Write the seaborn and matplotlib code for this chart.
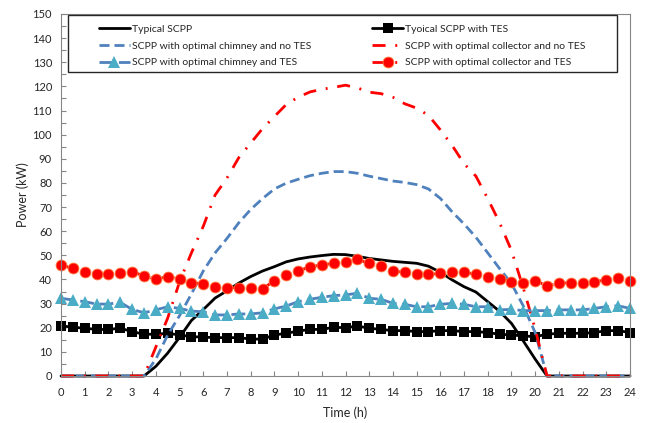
import matplotlib
matplotlib.use("Agg")
import matplotlib.pyplot as plt
import seaborn as sns
from matplotlib.path import Path
from matplotlib.ticker import MultipleLocator

# ---------------- data ----------------
hours = [0, 0.5, 1, 1.5, 2, 2.5, 3, 3.5, 4, 4.5, 5, 5.5, 6, 6.5, 7, 7.5, 8, 8.5,
         9, 9.5, 10, 10.5, 11, 11.5, 12, 12.5, 13, 13.5, 14, 14.5, 15, 15.5, 16,
         16.5, 17, 17.5, 18, 18.5, 19, 19.5, 20, 20.5, 21, 21.5, 22, 22.5, 23,
         23.5, 24]

typical = [0, 0, 0, 0, 0, 0, 0, 0,
           4, 9.5, 16, 23, 27.5, 32.3, 35.3, 38.5, 41.2, 43.5, 45.3, 47.3, 48.5,
           49.3, 49.9, 50.4, 50.3, 49.6, 48.7, 48.1, 47.5, 47.1, 46.7, 45.5, 43,
           39.8, 37, 34.8, 30.8, 26.8, 21.8, 14.5, 7,
           0, 0, 0, 0, 0, 0, 0, 0]

typical_tes = [20.8, 20.2, 19.8, 19.3, 19.3, 19.8, 18.4, 17.3, 17.3, 17.7, 17.0,
               16.3, 16.1, 15.9, 15.9, 15.9, 15.3, 15.3, 17.0, 17.7, 18.6, 19.3,
               19.3, 20.2, 20.0, 20.7, 19.8, 19.3, 18.8, 18.8, 18.4, 18.4, 18.8,
               18.8, 18.4, 18.4, 18.0, 17.3, 17.0, 16.6, 16.3, 17.3, 17.7, 17.7,
               17.7, 18.0, 18.8, 18.8, 18.0]

chimney_no_tes = [0, 0, 0, 0, 0, 0, 0, 0,
                  7, 17, 25, 34, 43.5, 51, 57, 63.5, 69, 73.5, 77.5, 79.9, 81.5,
                  83, 84, 84.7, 84.7, 84, 82.8, 81.8, 80.8, 80.2, 79.3, 77.5,
                  73.6, 68, 63, 57.5, 51, 44.5, 38.3, 29, 18,
                  0, 0, 0, 0, 0, 0, 0, 0]

collector_no_tes = [0, 0, 0, 0, 0, 0, 0, 0,
                    12, 24, 39, 51, 62, 75, 82, 90.5, 96.5, 102.5, 107.5, 112.5,
                    115.5, 117.7, 118.8, 119.6, 120.5, 119.4, 117.6, 117, 115.5,
                    112.8, 111, 108, 102, 95.5, 88, 82.8, 73.5, 63.5, 52, 36.5,
                    19.5,
                    0, 0, 0, 0, 0, 0, 0, 0]

chimney_tes = [32.2, 31.5, 30.8, 29.8, 29.8, 30.5, 27.6, 26.2, 27.4, 28.7, 28.0,
               26.9, 26.6, 25.3, 25.3, 25.7, 25.7, 26.2, 27.8, 29.0, 30.8, 31.8,
               32.6, 33.3, 33.6, 34.3, 32.2, 31.8, 30.1, 29.7, 28.7, 28.7, 29.7,
               30.1, 29.7, 28.7, 28.7, 27.4, 27.6, 27.1, 27.1, 27.1, 27.4, 27.4,
               27.4, 28.0, 28.7, 29.1, 28.0]

collector_tes = [46, 44.6, 43.2, 42.1, 42.3, 42.8, 43.1, 41.6, 40.1, 41.2, 40.1,
                 38.7, 38.2, 36.8, 36.6, 36.6, 36.6, 36.1, 39.5, 41.9, 43.5, 45.3,
                 46, 46.7, 47.4, 48.3, 46.7, 45.6, 43.5, 43, 42.1, 42.1, 42.5, 43,
                 43, 42.1, 41.2, 40.2, 39.1, 38.7, 39.5, 37.4, 38.4, 38.7, 38.4,
                 39.1, 39.8, 40.5, 39.5]

labels = ["Typical SCPP", "Tyoical SCPP with TES",
          "SCPP with optimal chimney and no TES",
          "SCPP with optimal collector and no TES",
          "SCPP with optimal chimney and TES",
          "SCPP with optimal collector and TES"]
x_ticks = list(range(0, 25))

# ---------------- style ----------------
sns.set_theme(style="white")
plt.rcParams['font.family'] = ['Lato', 'DejaVu Sans']

BLUE = "#4F81BD"
TEAL = "#4BACC6"
RED = "#FF0000"
GREY = "#868686"
TXT = "#262626"

fig = plt.figure(figsize=(6.45, 4.23), dpi=100)
ax = fig.add_axes([61 / 645, 1 - 376 / 423, (630 - 61) / 645, (376 - 14) / 423])

dash = (0, (3.6, 1.8))
dashdot = (0, (4.7, 3.5, 0.7, 3.5))

styles = [
    (typical, dict(color="black", lw=2.0, linestyle="-")),
    (typical_tes, dict(color="black", lw=2.0, linestyle="-", marker="s",
                       markersize=7, markeredgewidth=0)),
    (chimney_no_tes, dict(color=BLUE, lw=2.0, linestyle=dash)),
    (collector_no_tes, dict(color=RED, lw=2.0, linestyle=dashdot)),
    (chimney_tes, dict(color=BLUE, lw=2.0, linestyle=(0, (5, 2)), marker="^",
                       markersize=8.5, markerfacecolor=TEAL, markeredgecolor=TEAL,
                       markeredgewidth=0)),
    (collector_tes, dict(color=RED, lw=2.0, linestyle=dashdot, marker="o",
                         markersize=7.8, markerfacecolor=RED,
                         markeredgecolor="#FF7A3D", markeredgewidth=0.6)),
]

for lab, (vals, kw) in zip(labels, styles):
    sns.lineplot(x=hours, y=vals, ax=ax, label=lab, clip_on=False, **kw)

ax.set_xlim(0, 24)
ax.set_ylim(0, 150)
ax.yaxis.set_major_locator(MultipleLocator(10))
ax.yaxis.set_minor_locator(MultipleLocator(5))
ax.set_xticks(x_ticks)
ax.tick_params(axis="both", which="both", direction="in", length=3.5,
               width=0.8, color=GREY, labelsize=8, labelcolor=TXT,
               bottom=True, left=True)
ax.tick_params(axis="x", pad=8)
ax.tick_params(axis="y", pad=6.5)
for sp in ax.spines.values():
    sp.set_color(GREY)
    sp.set_linewidth(0.8)

ax.set_xlabel("Time (h)", fontsize=9, color=TXT, labelpad=6)
ax.set_ylabel("Power (kW)", fontsize=9, color=TXT, labelpad=2.5)

handles, labs = ax.get_legend_handles_labels()
order = [0, 2, 4, 1, 3, 5]
leg = ax.legend([handles[i] for i in order], [labs[i] for i in order],
                ncol=2, loc="upper left", bbox_to_anchor=(0.067, 0.971),
                borderpad=0, borderaxespad=0, fontsize=7.5,
                handlelength=2.95, handletextpad=0.18, columnspacing=5.9,
                labelspacing=0.72, frameon=True, fancybox=False)


def wide_box(x0, y0, width, height, mutation_size):
    pl, pr, pb, pt = 31.0, 32.0, 5.0, 9.5
    return Path([(x0 - pl, y0 - pb), (x0 + width + pr, y0 - pb),
                 (x0 + width + pr, y0 + height + pt),
                 (x0 - pl, y0 + height + pt), (x0 - pl, y0 - pb)],
                closed=True)


frame = leg.get_frame()
frame.set_boxstyle(wide_box)
frame.set_edgecolor(TXT)
frame.set_linewidth(1.0)
frame.set_alpha(1)
for t in leg.get_texts():
    t.set_color(TXT)

fig.savefig("out.png", dpi=100)
